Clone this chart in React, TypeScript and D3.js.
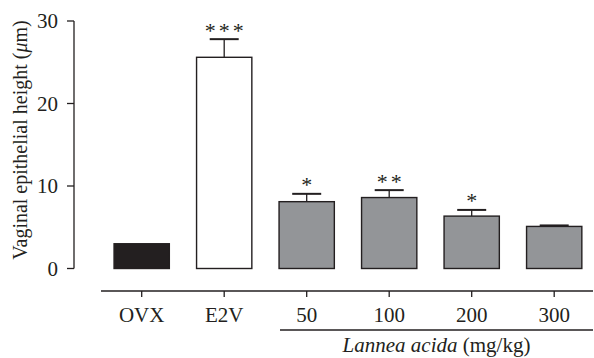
import React from "react";
import * as d3 from "d3";

const groups = ["OVX", "E2V", "50", "100", "200", "300"];
const means = [3.0, 25.6, 8.1, 8.6, 6.35, 5.1];
const errors = [0.0, 2.2, 0.95, 0.9, 0.75, 0.12];
const stars = ["", "***", "*", "**", "*", ""];
const fills = ["#231f20", "#ffffff", "#939598", "#939598", "#939598", "#939598"];
const yTicks = [0, 10, 20, 30];

const ink = "#231f20";
const font = "'Liberation Serif', 'Times New Roman', serif";

const App = () => {
  const width = 594;
  const height = 358;

  const x = d3.scaleBand<string>()
    .domain(groups)
    .range([100.45, 595.45])
    .paddingInner(0.33)
    .paddingOuter(0.165);

  const y = d3.scaleLinear().domain([0, 30]).range([268.5, 21]);

  const axisX = 74;
  const baseY = 291;
  const bw = x.bandwidth();

  return (
    <svg width={width} height={height} style={{ position: "absolute", left: 0, top: 0 }}
      fontFamily={font} fill={ink}>
      {/* y axis */}
      <line x1={axisX} x2={axisX} y1={y(30)} y2={y(0)} stroke={ink} strokeWidth={1.3} />
      {yTicks.map(t => (
        <g key={t}>
          <line x1={axisX - 7} x2={axisX} y1={y(t)} y2={y(t)} stroke={ink} strokeWidth={1.3} />
          <text x={axisX - 16} y={y(t)} dy="0.35em" textAnchor="end" fontSize={21}>{t}</text>
        </g>
      ))}
      <text transform={`translate(27,140) rotate(-90)`} textAnchor="middle" fontSize={20}>
        Vaginal epithelial height (<tspan fontStyle="italic">μ</tspan>m)
      </text>

      {/* bars */}
      {groups.map((g, i) => {
        const cx = x(g)! + bw / 2;
        const top = y(means[i]);
        const errTop = y(means[i] + errors[i]);
        return (
          <g key={g}>
            {errors[i] > 0 && (
              <>
                <line x1={cx} x2={cx} y1={top} y2={errTop} stroke={ink} strokeWidth={1.3} />
                <line x1={cx - 14.5} x2={cx + 14.5} y1={errTop} y2={errTop} stroke={ink} strokeWidth={2} />
              </>
            )}
            <rect x={x(g)} y={top} width={bw} height={y(0) - top}
              fill={fills[i]} stroke={ink} strokeWidth={1.4} />
            {stars[i] && (
              <text x={cx} dx={1.5} y={errTop - 1.5} textAnchor="middle" fontSize={22} letterSpacing={3}>
                {stars[i]}
              </text>
            )}
          </g>
        );
      })}

      {/* x axis */}
      <line x1={101} x2={593} y1={baseY} y2={baseY} stroke={ink} strokeWidth={1.3} />
      {groups.map(g => {
        const cx = x(g)! + bw / 2;
        return (
          <g key={g}>
            <line x1={cx} x2={cx} y1={baseY} y2={baseY + 6} stroke={ink} strokeWidth={1.3} />
            <text x={cx} y={322} textAnchor="middle" fontSize={21}>{g}</text>
          </g>
        );
      })}
      <line x1={280} x2={593} y1={330} y2={330} stroke={ink} strokeWidth={1.3} />
      <text x={436.5} y={351.5} textAnchor="middle" fontSize={21}>
        <tspan fontStyle="italic">Lannea acida</tspan> (mg/kg)
      </text>
    </svg>
  );
};

export default App;
